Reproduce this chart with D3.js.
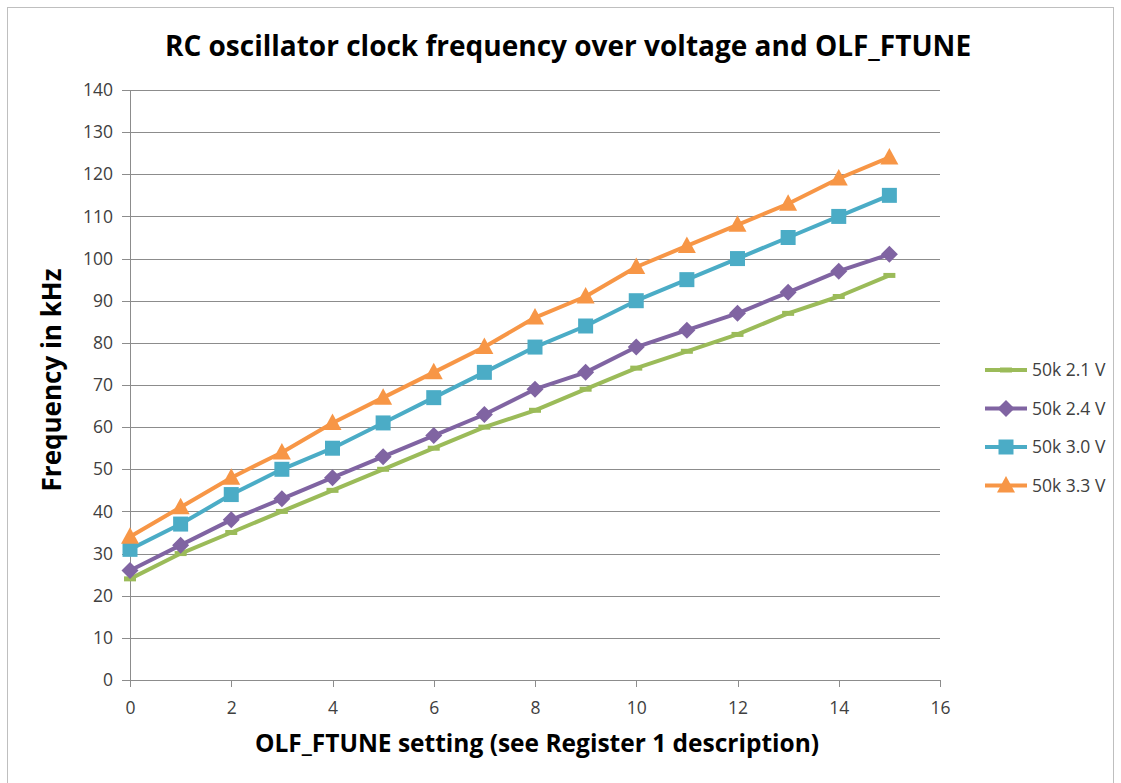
<!DOCTYPE html>
<html lang="en">
    <head>
        <meta charset="utf-8">
        <title>RC oscillator clock frequency</title>
        <script type="text/javascript" src="https://d3js.org/d3.v7.min.js"></script>
        <style type="text/css">
            body { margin: 0; background: white; }
            .axis path,
            .axis line {
                fill: none;
                stroke: #8c8c8c;
                shape-rendering: crispEdges;
            }
            .axis text {
                font-family: "Open Sans", sans-serif;
                font-size: 17.5px;
                fill: #404040;
            }
        </style>
    </head>
    <body>
        <script type="text/javascript">
            const settings = d3.range(0, 16)
            const seriesNames = ["50k 2.1 V", "50k 2.4 V", "50k 3.0 V", "50k 3.3 V"]
            const v21 = [24, 30, 35, 40, 45, 50, 55, 60, 64, 69, 74, 78, 82, 87, 91, 96]
            const v24 = [26, 32, 38, 43, 48, 53, 58, 63, 69, 73, 79, 83, 87, 92, 97, 101]
            const v30 = [31, 37, 44, 50, 55, 61, 67, 73, 79, 84, 90, 95, 100, 105, 110, 115]
            const v33 = [34, 41, 48, 54, 61, 67, 73, 79, 86, 91, 98, 103, 108, 113, 119, 124]
            const xTicks = d3.range(0, 17, 2)
            const yTicks = d3.range(0, 141, 10)

            const colors = ["#9bbb59", "#8064a2", "#4bacc6", "#f79646"]
            // marker shapes: dash, diamond, square, triangle
            const markerPaths = [
                "M-6,-2.5H6V2.5H-6Z",
                "M0,-8.5L8.5,0L0,8.5L-8.5,0Z",
                "M-7.5,-7.5H7.5V7.5H-7.5Z",
                "M0,-9.5L9,7H-9Z"
            ]
            const series = [v21, v24, v30, v33].map((vals, i) => ({
                name: seriesNames[i], color: colors[i], marker: markerPaths[i],
                points: vals.map((v, j) => [settings[j], v])
            }))

            const w = 1121
            const h = 783
            const svg = d3.select("body")
                            .append("svg")
                            .attr("width", w)
                            .attr("height", h)

            // chart frame
            svg.append("rect")
                .attr("x", 7.5).attr("y", 7.5)
                .attr("width", 1106).attr("height", 780)
                .attr("fill", "white").attr("stroke", "#bfbfbf")

            const xScale = d3.scaleLinear().domain([0, 16]).range([130, 940])
            const yScale = d3.scaleLinear().domain([0, 140]).range([680, 90])

            // gridlines
            svg.append("g")
                .selectAll("line")
                .data(yTicks.filter(d => d > 0))
                .enter()
                .append("line")
                .attr("x1", xScale(0)).attr("x2", xScale(16))
                .attr("y1", d => Math.round(yScale(d)) + 0.5)
                .attr("y2", d => Math.round(yScale(d)) + 0.5)
                .attr("stroke", "#8c8c8c")
                .attr("stroke-width", 1)

            const xAxis = d3.axisBottom(xScale).tickValues(xTicks).tickSize(7).tickPadding(15)
            svg.append("g")
                .attr("class", "axis")
                .attr("transform", `translate(0, ${yScale(0)})`)
                .call(xAxis)
                .call(g => g.select(".domain").attr("d", `M${xScale(0)},0.5H${xScale(16)}`))

            const yAxis = d3.axisLeft(yScale).tickValues(yTicks).tickSize(8).tickPadding(9)
            svg.append("g")
                .attr("class", "axis")
                .attr("transform", `translate(${xScale(0)}, 0)`)
                .call(yAxis)
                .call(g => g.select(".domain").attr("d", `M0.5,${yScale(140)}V${yScale(0)}`))

            // lines
            const line = d3.line().x(d => xScale(d[0])).y(d => yScale(d[1]))
            const sg = svg.selectAll(".series")
                            .data(series)
                            .enter()
                            .append("g")
                            .attr("class", "series")

            sg.append("path")
                .attr("d", d => line(d.points))
                .attr("fill", "none")
                .attr("stroke", d => d.color)
                .attr("stroke-width", 4)
                .attr("stroke-linejoin", "round")

            sg.selectAll("path.mk")
                .data(d => d.points.map(p => ({ p, s: d })))
                .enter()
                .append("path")
                .attr("class", "mk")
                .attr("d", d => d.s.marker)
                .attr("transform", d => `translate(${xScale(d.p[0])}, ${yScale(d.p[1])})`)
                .attr("fill", d => d.s.color)

            // title
            svg.append("text")
                .attr("x", 568).attr("y", 56)
                .attr("text-anchor", "middle")
                .attr("font-family", "Open Sans, sans-serif")
                .attr("font-weight", "bold")
                .attr("font-size", "28px")
                .attr("fill", "#000")
                .text("RC oscillator clock frequency over voltage and OLF_FTUNE")

            svg.append("text")
                .attr("transform", "translate(61, 380) rotate(-90)")
                .attr("text-anchor", "middle")
                .attr("font-family", "Open Sans, sans-serif")
                .attr("font-weight", "bold")
                .attr("font-size", "26px")
                .text("Frequency in kHz")

            svg.append("text")
                .attr("x", 537).attr("y", 752)
                .attr("text-anchor", "middle")
                .attr("font-family", "Open Sans, sans-serif")
                .attr("font-weight", "bold")
                .attr("font-size", "24.5px")
                .text("OLF_FTUNE setting (see Register 1 description)")

            // legend
            const legend = svg.selectAll(".legend")
                                .data(series)
                                .enter()
                                .append("g")
                                .attr("class", "legend")
                                .attr("transform", (_, i) => `translate(985, ${370 + i * 38.5})`)
            legend.append("line")
                .attr("x1", 0).attr("x2", 42)
                .attr("stroke", d => d.color)
                .attr("stroke-width", 4)
            legend.append("path")
                .attr("d", d => d.marker)
                .attr("transform", "translate(21, 0)")
                .attr("fill", d => d.color)
            legend.append("text")
                .attr("x", 47).attr("y", 6)
                .attr("font-family", "Open Sans, sans-serif")
                .attr("font-size", "17.5px")
                .attr("fill", "#404040")
                .text(d => d.name)
        </script>
    </body>
</html>
